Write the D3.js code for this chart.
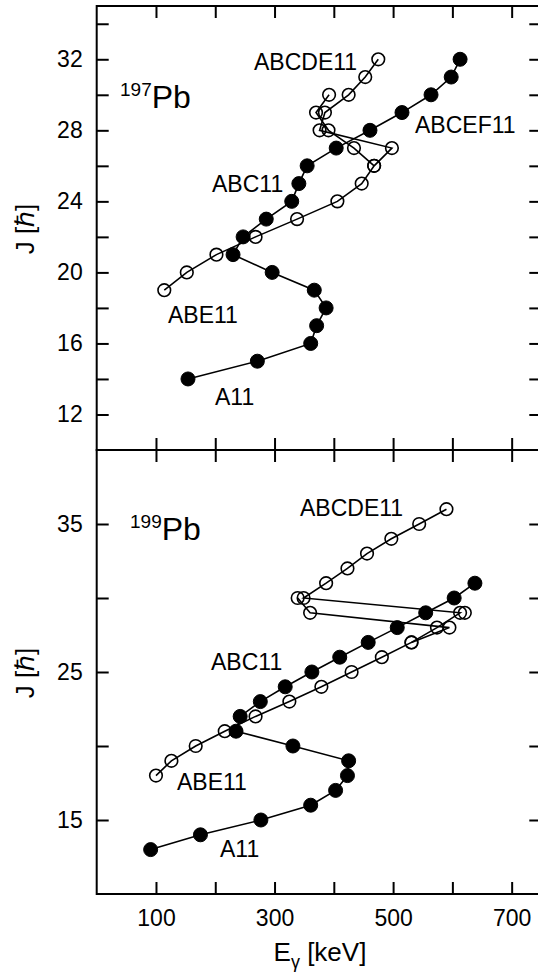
<!DOCTYPE html>
<html>
<head>
<meta charset="utf-8">
<script src="https://cdn.jsdelivr.net/npm/d3@7"></script>
<style>
  body { margin: 0; background: #fff; }
  text { font-family: "Liberation Sans", Arial, sans-serif; fill: #000; }
</style>
</head>
<body>
<div id="chart"></div>
<script>
// 197Pb : J values and gamma energies (keV)
var topFilledJ = [14, 15, 16, 17, 18, 19, 20, 21, 22, 23, 24, 25, 26, 27, 28, 29, 30, 31, 32];
var topFilledE = [154, 271, 361, 371, 387, 367, 296, 230, 247, 286, 329, 341, 355, 404, 461, 515, 564, 598, 613];
var topOpenJ = [19, 20, 21, 22, 23, 24, 25, 26, 27, 28, 29, 30, 31, 32];
var topOpenE = [114, 152, 202, 268, 338, 406, 447, 468, 498, 376, 385, 425, 453, 475];
var topOpen2J = [26, 27, 28, 29, 30];
var topOpen2E = [468, 434, 391, 370, 392];

// 199Pb
var botFilledJ = [13, 14, 15, 16, 17, 18, 19, 20, 21, 22, 23, 24, 25, 26, 27, 28, 29, 30, 31];
var botFilledE = [91, 175, 277, 361, 403, 423, 425, 331, 235, 242, 276, 318, 363, 410, 458, 507, 555, 603, 638];
var botOpenJ = [18, 19, 20, 21, 22, 23, 24, 25, 26, 27, 28, 29, 30, 31, 32, 33, 34, 35, 36];
var botOpenE = [100, 126, 167, 216, 268, 325, 379, 430, 481, 531, 574, 613, 349, 387, 423, 456, 497, 544, 590];
var botOpen2J = [27, 28, 29, 30];
var botOpen2E = [531, 595, 360, 339];
var botOpen3J = [29];
var botOpen3E = [621];

var xTicks = [100, 200, 300, 400, 500, 600, 700];
var xTickLabels = [100, 300, 500, 700];
var topYTicks = [12, 14, 16, 18, 20, 22, 24, 26, 28, 30, 32, 34];
var topYLabels = [12, 16, 20, 24, 28, 32];
var botYTicks = [15, 20, 25, 30, 35];
var botYLabels = [15, 25, 35];

var width = 538, height = 974;
var left = 96.7, right = 541.3;
var tickLen = 12;
var fontSize = 23;

var svg = d3.select("#chart").append("svg").attr("width", width).attr("height", height);

var x = d3.scaleLinear().domain([0, 750]).range([left, right]);
var yTop = d3.scaleLinear().domain([10, 35]).range([450, 6]);
var yBot = d3.scaleLinear().domain([10, 40]).range([894, 450]);

function zip(es, js) { return es.map(function (e, i) { return [e, js[i]]; }); }

function styleAxis(g) {
  g.select(".domain").remove();
  g.selectAll("line").attr("stroke", "#000").attr("stroke-width", 2);
  g.selectAll("text").attr("font-size", fontSize).attr("font-family", "Liberation Sans, Arial, sans-serif").attr("fill", "#000");
}

function drawPanel(y, yTicks, yLabels, isTop) {
  var y0 = y.range()[0], y1 = y.range()[1];
  // frame
  svg.append("rect").attr("x", left).attr("y", y1).attr("width", right - left).attr("height", y0 - y1)
    .attr("fill", "none").attr("stroke", "#000").attr("stroke-width", 2);

  // left axis with labels
  svg.append("g").attr("transform", "translate(" + left + ",0)")
    .call(d3.axisLeft(y).tickValues(yTicks).tickSize(-tickLen).tickPadding(14)
      .tickFormat(function (d) { return yLabels.indexOf(d) >= 0 ? d : ""; }))
    .call(styleAxis);
  // right axis ticks
  svg.append("g").attr("transform", "translate(" + right + ",0)")
    .call(d3.axisRight(y).tickValues(yTicks).tickSize(-tickLen).tickFormat(""))
    .call(styleAxis);
  // top and bottom ticks
  svg.append("g").attr("transform", "translate(0," + y1 + ")")
    .call(d3.axisTop(x).tickValues(xTicks).tickSize(-tickLen).tickFormat(""))
    .call(styleAxis);
  svg.append("g").attr("transform", "translate(0," + y0 + ")")
    .call(d3.axisBottom(x).tickValues(xTicks).tickSize(-tickLen).tickPadding(16)
      .tickFormat(function (d) { return (!isTop && xTickLabels.indexOf(d) >= 0) ? d : ""; }))
    .call(styleAxis);
}

drawPanel(yTop, topYTicks, topYLabels, true);
drawPanel(yBot, botYTicks, botYLabels, false);

function drawSeries(y, pts, filled) {
  var line = d3.line().x(function (d) { return x(d[0]); }).y(function (d) { return y(d[1]); });
  svg.append("path").datum(pts).attr("d", line).attr("fill", "none").attr("stroke", "#000").attr("stroke-width", 1.6);
  svg.append("g").selectAll("circle").data(pts).enter().append("circle")
    .attr("cx", function (d) { return x(d[0]); }).attr("cy", function (d) { return y(d[1]); })
    .attr("r", filled ? 7 : 6.3)
    .attr("fill", filled ? "#000" : "none").attr("stroke", "#000").attr("stroke-width", filled ? 1 : 1.6);
}

drawSeries(yTop, zip(topOpenE, topOpenJ), false);
drawSeries(yTop, zip(topOpen2E, topOpen2J), false);
drawSeries(yTop, zip(topFilledE, topFilledJ), true);

drawSeries(yBot, zip(botOpenE, botOpenJ), false);
drawSeries(yBot, zip(botOpen2E, botOpen2J), false);
drawSeries(yBot, zip(botOpen3E, botOpen3J), false);
drawSeries(yBot, zip(botFilledE, botFilledJ), true);

//band labels
function label(t, lx, ly) {
  svg.append("text").text(t).attr("x", lx).attr("y", ly).attr("font-size", fontSize);
}
label("ABCDE11", 254, 70);
label("ABCEF11", 415, 133);
label("ABC11", 212, 192);
label("ABE11", 168, 323);
label("A11", 215, 405);

label("ABCDE11", 300, 516);
label("ABC11", 211, 670);
label("ABE11", 177, 790);
label("A11", 220, 857);

// nucleus names
function nucleus(mass, lx, ly) {
  var t = svg.append("text").attr("x", lx).attr("y", ly);
  t.append("tspan").text(mass).attr("font-size", 19).attr("dy", -12);
  t.append("tspan").text("Pb").attr("font-size", 32).attr("dy", 12);
}
nucleus("197", 120, 108);
nucleus("199", 130, 540);

// axis titles
function jTitle(cy) {
  svg.append("text").text("J [\u210F]").attr("font-size", 26).attr("text-anchor", "middle")
    .attr("transform", "translate(34," + cy + ") rotate(-90)");
}
jTitle(229);
jTitle(673);

var xt = svg.append("text").attr("x", 320).attr("y", 961).attr("font-size", 26).attr("text-anchor", "middle");
xt.append("tspan").text("E");
xt.append("tspan").text("\u03B3").attr("font-size", 18).attr("dy", 7);
xt.append("tspan").text(" [keV]").attr("dy", -7);
</script>
</body>
</html>
